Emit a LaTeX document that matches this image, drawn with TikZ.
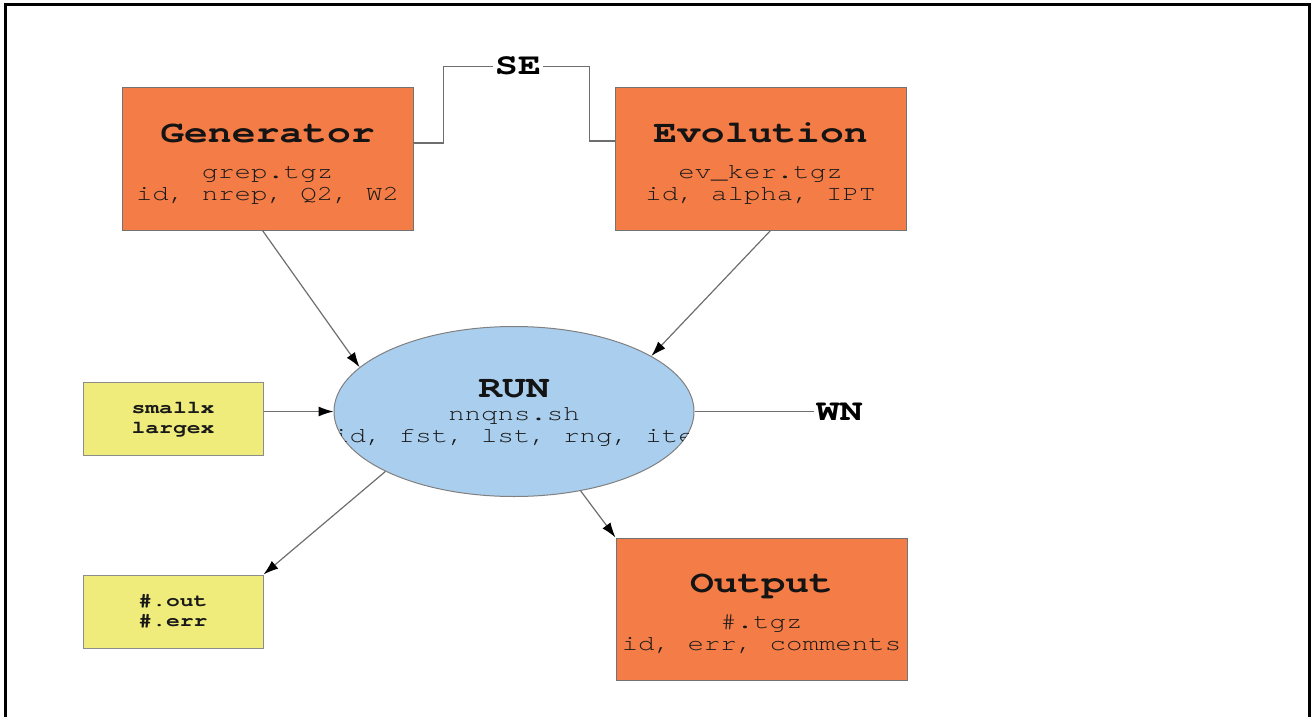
\documentclass[tikz,border=0pt]{standalone}
\usepackage{fontspec}
\newfontfamily\codefont[FakeStretch=1.28]{TeX Gyre Cursor}
\usetikzlibrary{calc,shapes.geometric,arrows.meta}
\definecolor{boxorange}{HTML}{F47C46}
\definecolor{boxyellow}{HTML}{EFEC7B}
\definecolor{runblue}{HTML}{AACEEE}
\definecolor{edgegray}{HTML}{6E6E6E}

\begin{document}
\begin{tikzpicture}[x=0.5pt,y=-0.5pt,
  bigbox/.style={draw=black!55, line width=0.5pt, fill=boxorange,
    minimum width=145.5pt, minimum height=71pt, inner sep=0pt},
  smallbox/.style={draw=black!45, line width=0.5pt, fill=boxyellow,
    minimum width=90pt, minimum height=36.5pt, inner sep=0pt},
  runshape/.style={ellipse, draw=black!50, line width=0.5pt, fill=runblue,
    minimum width=180pt, minimum height=85pt, inner sep=0pt},
  title/.style={font=\codefont\bfseries\fontsize{15.5}{16}\selectfont,
    text=black!92, anchor=base, inner sep=0pt},
  sub/.style={font=\codefont\fontsize{10.7}{12}\selectfont,
    text=black!90, anchor=base, inner sep=0pt},
  tag/.style={font=\codefont\bfseries\fontsize{9}{10}\selectfont,
    text=black!90, anchor=base, inner sep=0pt},
  wirelabel/.style={font=\codefont\bfseries\fontsize{15}{16}\selectfont,
    text=black, anchor=base, inner sep=1pt},
  flow/.style={draw=edgegray, line width=0.6pt,
    -{Latex[length=7.5pt,width=5pt,color=black]}},
  wire/.style={draw=edgegray, line width=0.6pt},
]
\useasboundingbox (0,0) rectangle (1311,717);

% open frame: left, top and right sides
\draw[line width=1.5pt] (5,717) -- (5,5) -- (1309,5) -- (1309,717);

% input packages
\node[bigbox] (gen) at (267.5,159) {};
\node[title] (genT) at ($(gen.north)+(0,55)$) {Generator};
\node[sub] (genF) at ($(gen.north)+(0,91)$) {grep.tgz};
\node[sub] (genA) at ($(gen.north)+(0,113)$) {id, nrep, Q2, W2};

\node[bigbox] (evo) at (760.5,159) {};
\node[title] (evoT) at ($(evo.north)+(0,55)$) {Evolution};
\node[sub] (evoF) at ($(evo.north)+(0,91)$) {ev\_ker.tgz};
\node[sub] (evoA) at ($(evo.north)+(0,113)$) {id, alpha, IPT};

% the run step
\node[runshape] (run) at (514,411.5) {};
\begin{scope}
  \clip (run.center) ellipse [x radius=90pt, y radius=42.5pt];
  \node[title] (runT) at ($(run.center)+(0,-14)$) {RUN};
  \node[sub] (runF) at ($(run.center)+(0,9)$) {nnqns.sh};
  \node[sub] (runA) at ($(run.center)+(0,31)$) {id, fst, lst, rng, ite};
\end{scope}

% side files
\node[smallbox] (grid) at (173,418.5) {};
\node[tag] (gridA) at ($(grid.center)+(0,-5.5)$) {smallx};
\node[tag] (gridB) at ($(grid.center)+(0,14.5)$) {largex};

\node[smallbox] (logs) at (173,611.5) {};
\node[tag] (logsA) at ($(logs.center)+(0,-5.5)$) {\#.out};
\node[tag] (logsB) at ($(logs.center)+(0,14.5)$) {\#.err};

% result package
\node[bigbox] (out) at (761.5,609) {};
\node[title] (outT) at ($(out.north)+(0,55)$) {Output};
\node[sub] (outF) at ($(out.north)+(0,91)$) {\#.tgz};
\node[sub] (outA) at ($(out.north)+(0,113)$) {id, err, comments};

% wire labels
\node[wirelabel] (se) at (518,75) {SE};
\node[wirelabel] (wn) at (839.5,420) {WN};

% connectors
\draw[wire] ($(gen.east)+(0,-16)$) -- ++(30,0) |- (se.west);
\draw[wire] (se.east) -- ++(46,0) |- ($(evo.west)+(0,-18)$);
\draw[flow] (gen.-94) -- (run.164);
\draw[flow] (evo.-82) -- (run.22);
\draw[flow] (grid.east |- run.west) -- (run.west);
\draw[wire] (run.east) -- (run.east -| wn.west);
\draw[flow] (run.205) -- (logs.north east);
\draw[flow] (run.-50) -- (out.north west);
\end{tikzpicture}
\end{document}
